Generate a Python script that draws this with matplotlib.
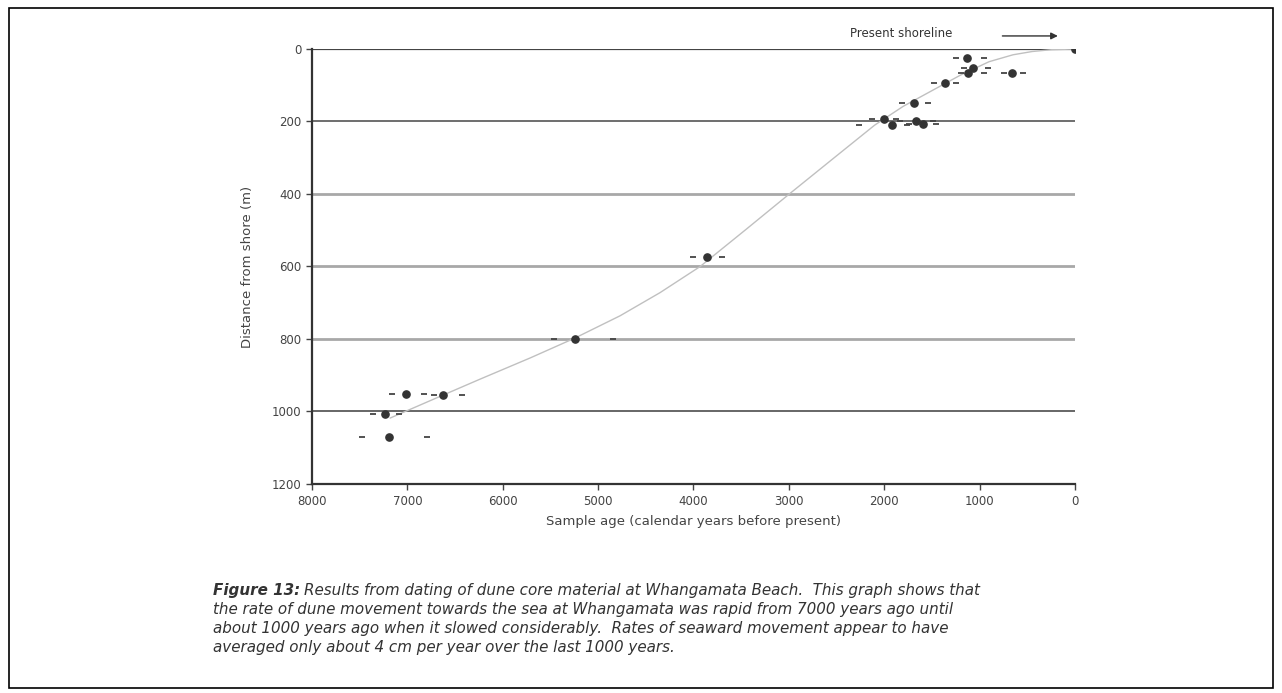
import matplotlib
matplotlib.use("Agg")
import matplotlib.pyplot as plt
import numpy as np

# dated samples: age (years BP), distance from shore (m), age range ends
ages = [1135, 1066, 1118, 664, 0, 1363, 1688, 1999, 1922, 1667, 1590, 3857, 5241, 7013, 6625, 7236, 7198]
dist = [25, 53, 67, 67, 0, 95, 148, 193, 210, 198, 208, 574, 801, 953, 954, 1008, 1069]
age_old = [1250, 1165, 1200, 740, np.nan, 1475, 1810, 2125, 2264, 1834, 1740, 4003, 5458, 7164, 6719, 7366, 7477]
age_young = [950, 916, 954, 548, np.nan, 1251, 1538, 1880, 1760, 1485, 1460, 3700, 4839, 6824, 6432, 7093, 6792]

# trend curve
curve_age = [7180, 6760, 6240, 5710, 5240, 4770, 4350, 3930, 3460, 3000, 2520, 2100, 1800, 1500, 1200, 900, 650, 450, 250, 0]
curve_dist = [1018, 970, 911, 852, 797, 736, 672, 600, 500, 401, 299, 210, 158, 115, 72, 35, 16, 7, 2, 0]

yticks = [0, 200, 400, 600, 800, 1000, 1200]
xticks = [8000, 7000, 6000, 5000, 4000, 3000, 2000, 1000, 0]

plt.rcParams['font.family'] = ['DejaVu Sans']

fig = plt.figure(figsize=(12.82, 6.93), dpi=100)
ax = fig.add_axes([0.2434, 0.3016, 0.5951, 0.6277])

ax.set_xlim(8000, 0)
ax.set_ylim(1200, 0)

# horizontal grid lines
grid_style = {0: ('#444444', 1.6), 200: ('#555555', 1.2), 400: ('#a8a8a8', 2.0),
              600: ('#a8a8a8', 2.0), 800: ('#a8a8a8', 2.0), 1000: ('#666666', 1.4)}
for yv, (c, lw) in grid_style.items():
    ax.axhline(yv, color=c, lw=lw, zorder=1)

ax.plot(curve_age, curve_dist, color='#c0c0c0', lw=1, zorder=2)

ax.plot(age_old, dist, ls='none', marker='_', ms=5, mew=1.3, color='#444444', zorder=3)
ax.plot(age_young, dist, ls='none', marker='_', ms=5, mew=1.3, color='#444444', zorder=3)
ax.plot(ages, dist, ls='none', marker='o', ms=5.2, color='#333333', zorder=4)

for s in ['top', 'right']:
    ax.spines[s].set_visible(False)
for s in ['left', 'bottom']:
    ax.spines[s].set_linewidth(1.6)
    ax.spines[s].set_color('#333333')

ax.set_yticks(yticks)
ax.set_xticks(xticks)
ax.set_xticklabels([str(v) for v in xticks])
ax.tick_params(labelsize=8.5, colors='#444444', length=4, width=1)
ax.tick_params(axis='x', pad=4)

ax.set_xlabel('Sample age (calendar years before present)', fontsize=9.5, color='#444444', labelpad=5)
ax.set_ylabel('Distance from shore (m)', fontsize=9.5, color='#444444', labelpad=13)

ax.text(2360, -42, 'Present shoreline', fontsize=8.5, color='#333333', va='center', clip_on=False)
ax.annotate('', xy=(150, -36), xytext=(790, -36), annotation_clip=False,
            arrowprops=dict(arrowstyle='-|>', color='#333333', lw=1, mutation_scale=10))

# caption
cap_x, cap_y = 0.166, 0.142
fs = 10.9
t1 = fig.text(cap_x, cap_y, 'Figure 13:', fontsize=fs, style='italic', weight='bold', color='#333333')
fig.canvas.draw()
bb = t1.get_window_extent()
w = bb.width / fig.bbox.width
fig.text(cap_x + w + 0.003, cap_y, 'Results from dating of dune core material at Whangamata Beach.  This graph shows that',
         fontsize=fs, style='italic', color='#333333')
rest = ['the rate of dune movement towards the sea at Whangamata was rapid from 7000 years ago until',
        'about 1000 years ago when it slowed considerably.  Rates of seaward movement appear to have',
        'averaged only about 4 cm per year over the last 1000 years.']
for i, line in enumerate(rest):
    fig.text(cap_x, cap_y - 0.0275 * (i + 1), line, fontsize=fs, style='italic', color='#333333')

# outer frame
fig.add_artist(plt.Rectangle((0.007, 0.007), 0.986, 0.982, transform=fig.transFigure,
                             fill=False, edgecolor='black', lw=1.2))

fig.savefig('out.png', dpi=100)
